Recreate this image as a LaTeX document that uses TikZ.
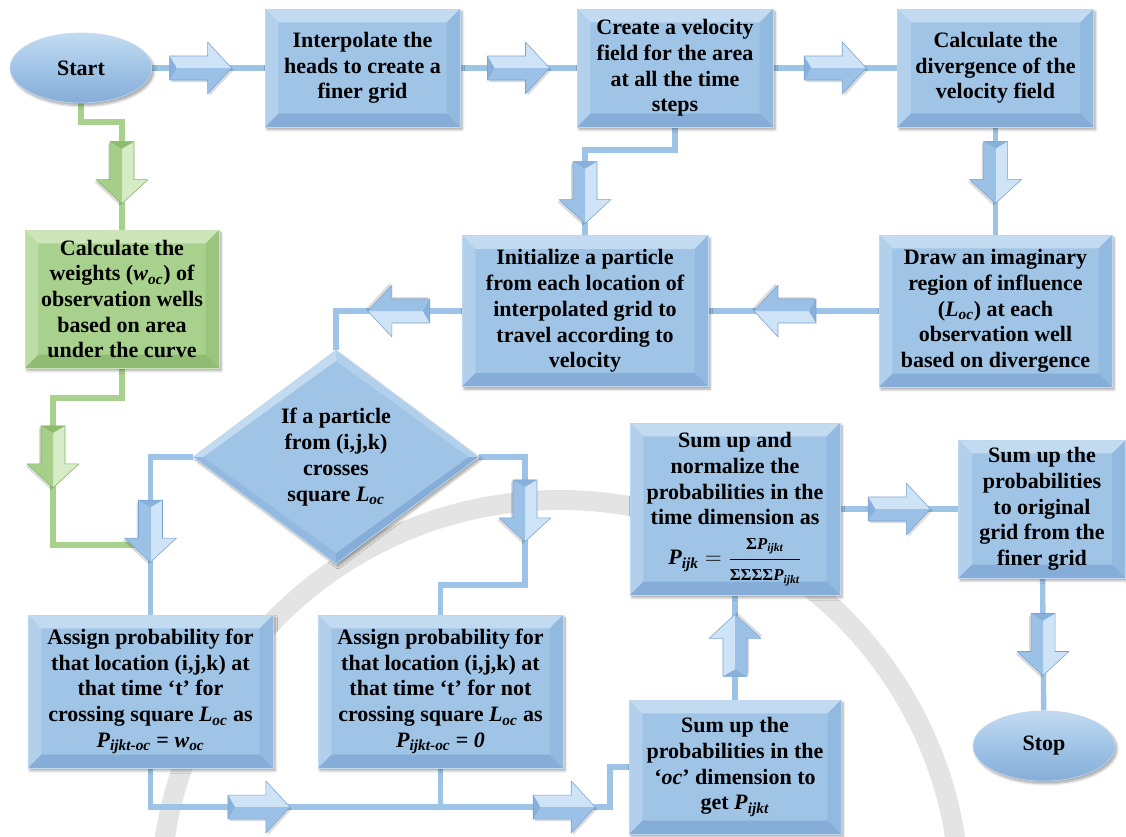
\documentclass[tikz,border=0pt]{standalone}
\usepackage{fontspec}
\usepackage{amsmath}
\setmainfont{Liberation Serif}
\usetikzlibrary{calc,shapes.geometric,shadows.blur}

% box faces and bevels
\definecolor{face}{RGB}{160,196,230}
\definecolor{faceTop}{RGB}{195,219,241}
\definecolor{faceLeft}{RGB}{178,208,236}
\definecolor{faceRight}{RGB}{146,185,224}
\definecolor{faceBot}{RGB}{134,173,216}
\definecolor{edge}{RGB}{192,216,239}
\definecolor{gface}{RGB}{169,209,142}
\definecolor{gTop}{RGB}{204,230,186}
\definecolor{gLeft}{RGB}{188,221,166}
\definecolor{gRight}{RGB}{155,197,127}
\definecolor{gBot}{RGB}{143,187,115}
\definecolor{gedge}{RGB}{200,228,182}
% connectors
\definecolor{link}{RGB}{157,195,230}
\definecolor{glink}{RGB}{169,209,142}
% block arrows
\definecolor{arU}{RGB}{206,227,246}
\definecolor{arD}{RGB}{155,193,230}
\definecolor{arT}{RGB}{136,176,220}
\definecolor{arE}{RGB}{120,162,210}
\definecolor{gaU}{RGB}{214,236,198}
\definecolor{gaD}{RGB}{166,207,138}
\definecolor{gaT}{RGB}{140,188,108}
\definecolor{gaE}{RGB}{128,180,96}
% background seal
\definecolor{sealgray}{RGB}{228,228,228}

\newcommand{\bi}[1]{\textbf{\textit{#1}}}
\newcommand{\fracpart}[1]{\text{\fontsize{12.5}{13}\selectfont\bfseries #1}}

% block arrow pointing along +x, centred on the origin
\newcommand{\arrowshape}[4]{%
  \fill[black,opacity=0.14] (-29,-10) -- (9,-10) -- (9,-24) -- (33,2) -- (9,28) -- (9,14) -- (-29,14) -- cycle;
  \fill[#2] (-31,-12) -- (7,-12) -- (7,-26) -- (31,0) -- (-31,0) -- cycle;
  \fill[#3] (-31,12) -- (7,12) -- (7,26) -- (31,0) -- (-31,0) -- cycle;
  \fill[#1] (-31,-12) -- (-24,0) -- (-31,12) -- cycle;
  \draw[#4, line width=0.4pt, line join=round] (-31,-12) -- (7,-12) -- (7,-26) -- (31,0) -- (7,26) -- (7,12) -- (-31,12) -- cycle;
}

\pgfdeclarelayer{bg}
\pgfsetlayers{bg,main}

\begin{document}
\begin{tikzpicture}[x=0.75pt,y=-0.75pt,
  txt/.style={align=center, text=black, font=\fontsize{16.5}{19.3}\selectfont\bfseries},
  sz/.style 2 args={minimum width=#1*0.75pt, minimum height=#2*0.75pt},
  bevel/.style n args={4}{path picture={
     \coordinate (p1) at (path picture bounding box.north west);
     \coordinate (p2) at (path picture bounding box.north east);
     \coordinate (p3) at (path picture bounding box.south east);
     \coordinate (p4) at (path picture bounding box.south west);
     \coordinate (q1) at ($(p1)+(10pt,-10pt)$);
     \coordinate (q2) at ($(p2)+(-10pt,-10pt)$);
     \coordinate (q3) at ($(p3)+(-10pt,10pt)$);
     \coordinate (q4) at ($(p4)+(10pt,10pt)$);
     \fill[#1] (p1) -- (p2) -- (q2) -- (q1) -- cycle;
     \fill[#2] (p1) -- (q1) -- (q4) -- (p4) -- cycle;
     \fill[#3] (p2) -- (p3) -- (q3) -- (q2) -- cycle;
     \fill[#4] (p4) -- (q4) -- (q3) -- (p3) -- cycle;
  }},
  dbevel/.style={path picture={
     \coordinate (dc) at (path picture bounding box.center);
     \coordinate (dn) at (path picture bounding box.north);
     \coordinate (ds) at (path picture bounding box.south);
     \coordinate (de) at (path picture bounding box.east);
     \coordinate (dw) at (path picture bounding box.west);
     \coordinate (en) at ($(dn)!0.1!(dc)$);
     \coordinate (es) at ($(ds)!0.1!(dc)$);
     \coordinate (ee) at ($(de)!0.07!(dc)$);
     \coordinate (ew) at ($(dw)!0.07!(dc)$);
     \fill[faceTop] (dn) -- (dw) -- (ew) -- (en) -- cycle;
     \fill[faceLeft] (dn) -- (de) -- (ee) -- (en) -- cycle;
     \fill[faceBot] (ds) -- (de) -- (ee) -- (es) -- cycle;
     \fill[faceRight] (ds) -- (dw) -- (ew) -- (es) -- cycle;
  }},
  shd/.style={blur shadow={shadow xshift=1.5pt, shadow yshift=-2pt, shadow blur steps=6, shadow opacity=35}},
  box/.style={txt, rectangle, inner sep=2pt, fill=face, draw=edge, line width=0.5pt,
     bevel={faceTop}{faceLeft}{faceRight}{faceBot}, shd},
  gbox/.style={txt, rectangle, inner sep=2pt, fill=gface, draw=gedge, line width=0.5pt,
     bevel={gTop}{gLeft}{gRight}{gBot}, shd},
  term/.style={txt, ellipse, inner sep=0pt, sz={142}{70},
     top color=faceTop, bottom color=faceBot, middle color=face, draw=edge, line width=0.5pt, shd},
  decide/.style={txt, diamond, inner sep=0pt, sz={286}{214}, fill=face, draw=edge,
     line width=0.5pt, dbevel, shd},
  link/.style={draw=link, line width=4pt},
  glink/.style={draw=glink, line width=4pt},
  pics/barr/.style={code={\arrowshape{arT}{arU}{arD}{arE}}},
  pics/garr/.style={code={\arrowshape{gaT}{gaU}{gaD}{gaE}}}
]
\useasboundingbox (0,0) rectangle (1126,836);

% steps
\node[term] (start) at (81,68) {Start};
\node[box, sz={195}{118}] (interp) at (362.5,68) {Interpolate the\\heads to create a\\finer grid};
\node[box, sz={196}{118}] (velo) at (675,68) {Create a velocity\\field for the area\\at all the time\\steps};
\node[box, sz={196}{118}] (diverg) at (995.5,68) {Calculate the\\divergence of the\\velocity field};
\node[gbox, sz={194}{138}] (weights) at (122,299) {Calculate the\\weights (\bi{w}$_{\bi{oc}}$) of\\observation wells\\based on area\\under the curve};
\node[box, sz={246}{151}] (init) at (585,311) {Initialize a particle\\from each location of\\interpolated grid to\\travel according to\\velocity};
\node[box, sz={233}{152}] (region) at (995.5,311) {Draw an imaginary\\region of influence\\(\bi{L}$_{\bi{oc}}$) at each\\observation well\\based on divergence};
\node[decide] (dia) at (336,457) {If a particle\\from (i,j,k)\\crosses\\square \bi{L}$_{\bi{oc}}$};
\node[box, sz={245}{153}] (a1) at (150.5,691.5) {Assign probability for\\that location (i,j,k) at\\that time ‘t’ for\\crossing square \bi{L}$_{\bi{oc}}$ as\\\bi{P}$_{\bi{ijkt-oc}}$ = \bi{w}$_{\bi{oc}}$};
\node[box, sz={245}{153}] (a2) at (440.5,691.5) {Assign probability for\\that location (i,j,k) at\\that time ‘t’ for not\\crossing square \bi{L}$_{\bi{oc}}$ as\\\bi{P}$_{\bi{ijkt-oc}}$ = \bi{0}};
\node[box, sz={212}{134}] (sumoc) at (735,767) {Sum up the\\probabilities in the\\‘\bi{oc}’ dimension to\\get \bi{P}$_{\bi{ijkt}}$};
\node[box, sz={210}{172}] (sumnorm) at (735,509) {Sum up and\\normalize the\\probabilities in the\\time dimension as\\[9pt]\bi{P}$_{\bi{ijk}}=\dfrac{\fracpart{Σ\bi{P}$_{\bi{ijkt}}$}}{\fracpart{ΣΣΣΣ\bi{P}$_{\bi{ijkt}}$}}$};
\node[box, sz={167}{138}] (sumorig) at (1042,509) {Sum up the\\probabilities\\to original\\grid from the\\finer grid};
\node[term] (stop) at (1044,746) {Stop};

% bend points
\coordinate (gs) at (122,122);
\coordinate (vs) at (585,150);
\coordinate (rk) at (525,585);
\coordinate (g1) at (53,398);
\coordinate (g2) at (53,545);
\coordinate (gj) at (150.5,545);
\coordinate (bk) at (610,807);
\coordinate (sealc) at (560,900);

% faint seal ring and connectors, behind the steps
\begin{pgfonlayer}{bg}
  \begin{scope}
    \clip (0,0) rectangle (1126,836);
    \draw[draw=sealgray, line width=15pt] (sealc) circle[radius=400];
  \end{scope}
  \draw[link] (start) -- (interp);
  \draw[link] (interp) -- (velo);
  \draw[link] (velo) -- (diverg);
  \draw[link] (velo.south) |- (vs) -- (init.north);
  \draw[link] (diverg) -- (region);
  \draw[link] (region) -- (init);
  \draw[link] (init.west) -| (dia.north);
  \draw[link] (dia.west) -| (a1.north);
  \draw[link] (dia.east) -| (rk) -| (a2.north);
  \draw[link] (a1.south) |- (bk) |- (sumoc.west);
  \draw[link] (a2.south) -- (a2.south |- bk);
  \draw[link] (sumoc) -- (sumnorm);
  \draw[link] (sumnorm) -- (sumorig);
  \draw[link] (sumorig) -- (stop);
  \draw[glink] (start.south) |- (gs) -- (weights.north);
  \draw[glink] (weights.south) |- (g1) -- (g2) -- (gj);
\end{pgfonlayer}

% block arrows on the connectors
\pic at ($(start.east)!0.43!(interp.west)$) {barr};
\pic at ($(interp.east)!0.5!(velo.west)$) {barr};
\pic at ($(velo.east)!0.5!(diverg.west)$) {barr};
\pic[rotate=-90] at ($(gs)!0.47!(weights.north)$) {garr};
\pic[rotate=-90] at ($(vs)!0.5!(init.north)$) {barr};
\pic[rotate=-90] at ($(diverg.south)!0.42!(region.north)$) {barr};
\pic[rotate=180] at ($(region.west)!0.55!(init.east)$) {barr};
\pic[rotate=180] at ($(init.west)!0.5!(dia.north |- init.west)$) {barr};
\pic[rotate=-90] at ($(dia.west -| a1.north)!0.47!(a1.north)$) {barr};
\pic[rotate=-90] at ($(dia.east -| rk)!0.42!(rk)$) {barr};
\pic[rotate=-90] at ($(g1)!0.4!(g2)$) {garr};
\pic at ($(a1.south |- bk)!0.374!(a2.south |- bk)$) {barr};
\pic at ($(a2.south |- bk)!0.73!(bk)$) {barr};
\pic[rotate=90] at ($(sumoc.north)!0.52!(sumnorm.south)$) {barr};
\pic at ($(sumnorm.east)!0.5!(sumorig.west)$) {barr};
\pic[rotate=-90] at ($(sumorig.south)!0.5!(stop.north)$) {barr};
\end{tikzpicture}
\end{document}
